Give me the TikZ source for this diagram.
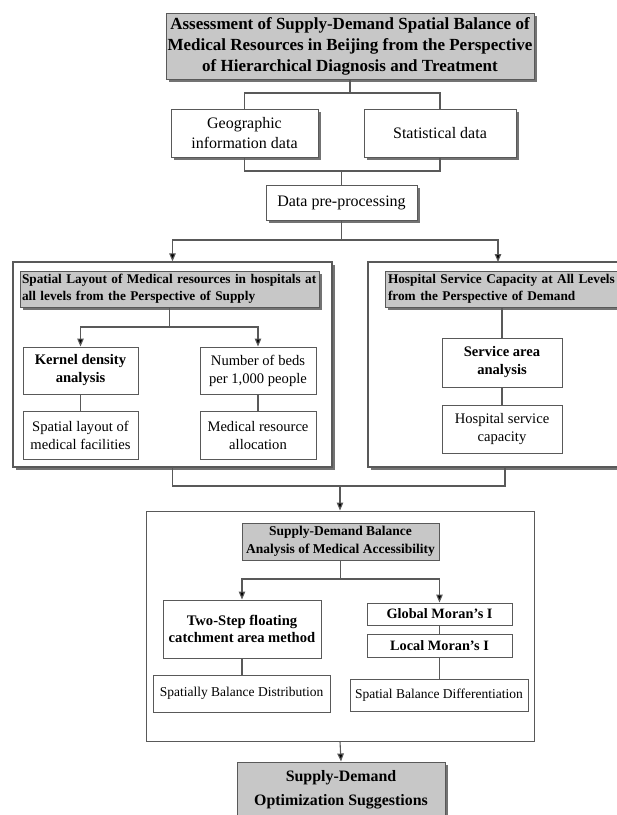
\documentclass[tikz,border=0pt]{standalone}
\usepackage{fontspec}
\setmainfont{Liberation Serif}
\usetikzlibrary{arrows.meta,shadows}
\begin{document}
\begin{tikzpicture}[x=1pt,y=-1pt,
 conn/.style={draw=black!65, line width=1.1pt},
 arr/.style={conn, -{Triangle[length=8pt,width=6.5pt,fill=black]}},
 box/.style={draw=black!65, line width=1pt, fill=white, inner sep=0pt, align=center},
 gbox/.style={box, fill=black!22},
 shad/.style={drop shadow={shadow xshift=2.5pt, shadow yshift=-2.5pt, fill=black!55, opacity=1}},
 ftitle/.style={font=\fontsize{17}{21}\selectfont\bfseries},
 fdata/.style={font=\fontsize{16}{20}\selectfont},
 fhead/.style={font=\fontsize{13.3}{17}\selectfont\bfseries},
 fbody/.style={font=\fontsize{14.6}{18}\selectfont},
 fbodyb/.style={font=\fontsize{14.6}{18}\selectfont\bfseries},
 fsmall/.style={font=\fontsize{13.5}{17}\selectfont},
]
\useasboundingbox (0,0) rectangle (617,815);
\clip (0,0) rectangle (617,815);
\fill[white] (0,0) rectangle (617,815);

% top
\node[gbox,shad,ftitle,minimum width=368pt,minimum height=66pt] (title) at (350,46)
 {Assessment of Supply-Demand Spatial Balance of\\Medical Resources in Beijing from the Perspective\\of Hierarchical Diagnosis and Treatment};
\node[box,shad,fdata,minimum width=147pt,minimum height=48pt] (geo) at (244.5,133) {Geographic\\information data};
\node[box,shad,fdata,minimum width=152pt,minimum height=48pt] (stat) at (440,133) {Statistical data};
\node[box,shad,fdata,minimum width=151pt,minimum height=35pt] (pre) at (341.5,202.5) {Data pre-processing};

% left big box
\node[box,shad,line width=1.3pt,minimum width=319pt,minimum height=205pt] (leftbig) at (172.5,364.5) {};
\node[gbox,shad,fhead,minimum width=299pt,minimum height=36pt,text width=295pt,inner xsep=2pt,align=left] (lefttitle) at (169.5,289)
 {Spatial Layout of Medical resources in hospitals at\\all levels from the Perspective of Supply};
\node[box,fbodyb,minimum width=115pt,minimum height=47pt] (kernel) at (80.5,370.5) {Kernel density\\analysis};
\node[box,fbody,minimum width=116pt,minimum height=47pt] (beds) at (258,370.5) {Number of beds\\per 1,000 people};
\node[box,fbody,minimum width=115pt,minimum height=48pt] (spatlay) at (80.5,435) {Spatial layout of\\medical facilities};
\node[box,fbody,minimum width=116pt,minimum height=48pt] (medalloc) at (258,435) {Medical resource\\allocation};

% right big box
\node[box,shad,line width=1.3pt,minimum width=268pt,minimum height=205pt] (rightbig) at (502,364.5) {};
\node[gbox,shad,fhead,minimum width=240pt,minimum height=36pt,text width=234pt,inner xsep=3pt,align=left] (righttitle) at (505,289)
 {Hospital Service Capacity at All Levels\\from the Perspective of Demand};
\node[box,fbodyb,minimum width=120pt,minimum height=49pt] (service) at (502,362.5) {Service area\\analysis};
\node[box,fbody,minimum width=120pt,minimum height=48pt] (hsc) at (502,429) {Hospital service\\capacity};
\coordinate (rbtop) at (498,262);
\coordinate (rbbot) at (505,467);

% bottom big box
\node[box,minimum width=388pt,minimum height=230pt] (bottombig) at (340,626) {};
\node[gbox,font=\fontsize{13.5}{18}\selectfont\bfseries,minimum width=197pt,minimum height=37pt] (sdtitle) at (340.5,541.5)
 {Supply-Demand Balance\\Analysis of Medical Accessibility};
\node[box,font=\fontsize{14.6}{17}\selectfont\bfseries,minimum width=158pt,minimum height=58pt] (twostep) at (242,629) {Two-Step floating\\catchment area method};
\node[box,font=\fontsize{14.3}{17}\selectfont\bfseries,minimum width=145pt,minimum height=22pt] (global) at (439.5,614) {Global Moran\symbol{39}s I};
\node[box,font=\fontsize{14.3}{17}\selectfont\bfseries,minimum width=145pt,minimum height=23pt] (local) at (439.5,645.5) {Local Moran\symbol{39}s I};
\node[box,fsmall,minimum width=177pt,minimum height=37pt] (sbd) at (241.5,693.5) {Spatially Balance Distribution};
\node[box,fsmall,minimum width=178pt,minimum height=32pt] (sbdiff) at (439,695) {Spatial Balance Differentiation};

% final
\node[gbox,shad,font=\fontsize{15.9}{24}\selectfont\bfseries,minimum width=208pt,minimum height=56pt] (final) at (341,790)
 {Supply-Demand\\Optimization Suggestions};

% connectors top
\draw[conn] (title.south) -- (title.south |- 0,93) coordinate (j1);
\draw[conn] (geo.north) |- (j1) -| (stat.north);
\draw[conn] (geo.south) |- (pre.north |- 0,171) -| (stat.south);
\draw[conn] (pre.north |- 0,171) -- (pre.north);
\draw[conn] (pre.south) -- (pre.south |- 0,240) coordinate (j0);
\draw[arr] (j0) -| (leftbig.north);
\draw[arr] (j0) -| (rbtop);

% left inner
\draw[conn] (lefttitle.south) -- (lefttitle.south |- 0,327) coordinate (j2);
\draw[arr] (j2) -| (kernel.north);
\draw[arr] (j2) -| (beds.north);
\draw[conn] (kernel.south) -- (spatlay.north);
\draw[conn] (beds.south) -- (medalloc.north);

% right inner
\draw[conn] (service.north |- righttitle.south) -- (service.north);
\draw[conn] (service.south) -- (hsc.north);

% merge
\draw[conn] (leftbig.south) |- (rbbot |- 0,486) -- (rbbot);
\draw[arr] (bottombig.north |- 0,486) -- (bottombig.north);

% bottom inner
\draw[conn] (sdtitle.south) -- (sdtitle.south |- 0,579) coordinate (j3);
\draw[arr] (j3) -| (twostep.north);
\draw[arr] (j3) -| (global.north);
\draw[conn] (twostep.south) -- (twostep.south |- sbd.north);
\draw[conn] (global.south) -- (local.north);
\draw[conn] (local.south) -- (local.south |- sbdiff.north);
\draw[arr] (bottombig.south) -- (final.north);
\end{tikzpicture}
\end{document}
